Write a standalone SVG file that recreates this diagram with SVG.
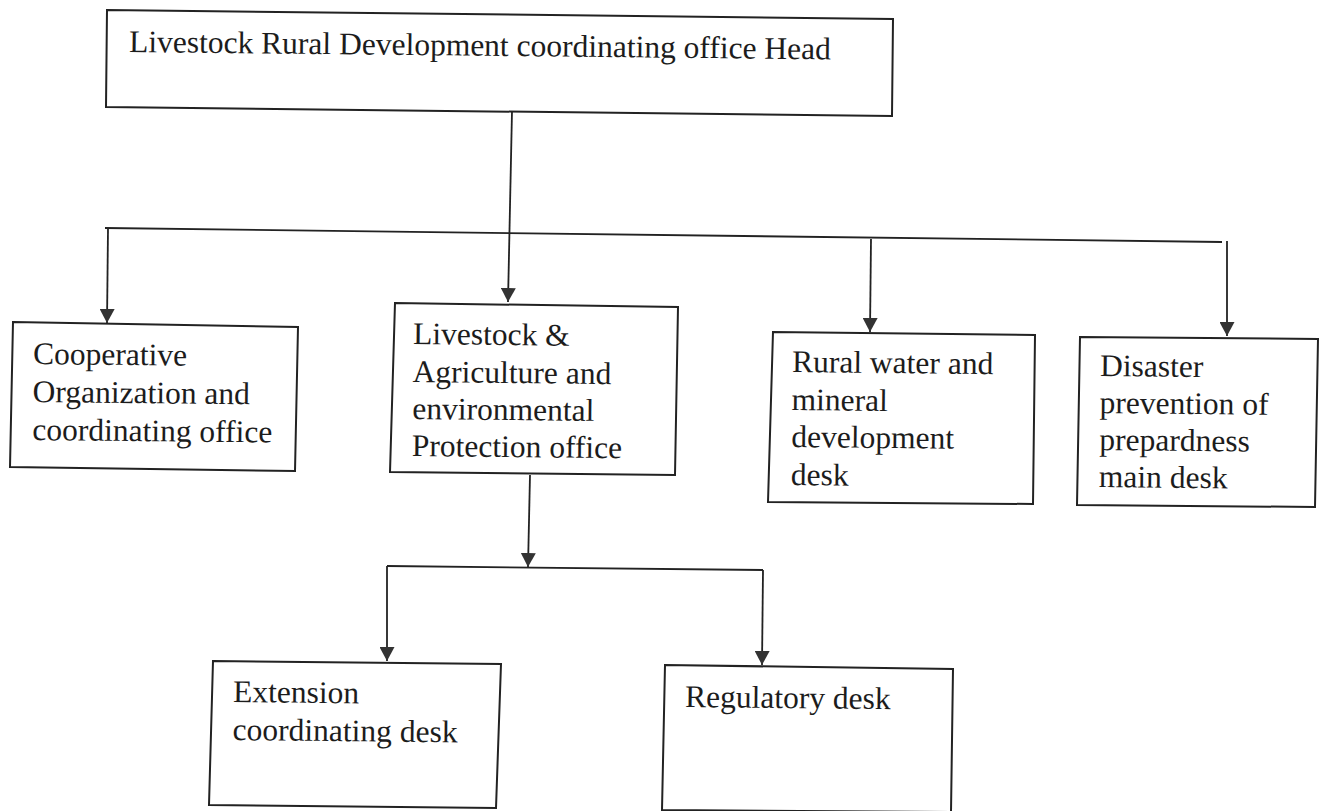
<svg xmlns="http://www.w3.org/2000/svg" width="1324" height="811" viewBox="0 0 1324 811">
<style>
.box{fill:#fff;stroke:#222;stroke-width:2}
.lbl{font-family:"Liberation Serif","DejaVu Serif",serif;font-size:31.5px;fill:#1c1c1c}
.conn{fill:none;stroke:#222;stroke-width:1.8}
</style>
<defs>
<marker id="arr" markerUnits="userSpaceOnUse" markerWidth="14" markerHeight="15" viewBox="0 0 14 15" refX="14" refY="7.5" orient="auto">
<path d="M0,0 L14,7.5 L0,15 z" fill="#333"/>
</marker>
</defs>
<rect width="1324" height="811" fill="#fff"/>
<g id="connectors">
<path class="conn" d="M512,111 L508,302" marker-end="url(#arr)"/>
<path class="conn" d="M105,228 L1222,242"/>
<path class="conn" d="M108,229 L107,323" marker-end="url(#arr)"/>
<path class="conn" d="M871,239 L870,332" marker-end="url(#arr)"/>
<path class="conn" d="M1227,241 L1227,336" marker-end="url(#arr)"/>
<path class="conn" d="M530,475 L528,567" marker-end="url(#arr)"/>
<path class="conn" d="M387,566 L763,570"/>
<path class="conn" d="M387,566 L387,661" marker-end="url(#arr)"/>
<path class="conn" d="M763,570 L762,665" marker-end="url(#arr)"/>
</g>
<g id="node-head">
<polygon class="box" points="107,10 893,19 892,116 106,107"/>
<text class="lbl" x="129" y="52" transform="rotate(0.6 129 52)">Livestock Rural Development coordinating office Head</text>
</g>
<g id="node-cooperative">
<polygon class="box" points="13,322 298,327 295,471 10,467"/>
<text class="lbl" transform="rotate(0.6 33 364)"><tspan x="33" y="364">Cooperative</tspan><tspan x="33" y="402">Organization and</tspan><tspan x="33" y="440">coordinating office</tspan></text>
</g>
<g id="node-livestock">
<polygon class="box" points="395,303 678,307 675,475 390,472"/>
<text class="lbl" transform="rotate(0.6 413 344)"><tspan x="413" y="344">Livestock &amp;</tspan><tspan x="413" y="382">Agriculture and</tspan><tspan x="413" y="419">environmental</tspan><tspan x="413" y="456">Protection office</tspan></text>
</g>
<g id="node-rural">
<polygon class="box" points="773,332 1035,335 1033,504 768,502"/>
<text class="lbl" transform="rotate(0.6 792 372)"><tspan x="792" y="372">Rural water and</tspan><tspan x="792" y="410">mineral</tspan><tspan x="792" y="447">development</tspan><tspan x="792" y="485">desk</tspan></text>
</g>
<g id="node-disaster">
<polygon class="box" points="1080,337 1318,339 1315,507 1077,505"/>
<text class="lbl" transform="rotate(0.6 1100 376)"><tspan x="1100" y="376">Disaster</tspan><tspan x="1100" y="413">prevention of</tspan><tspan x="1100" y="450">prepardness</tspan><tspan x="1100" y="487">main desk</tspan></text>
</g>
<g id="node-extension">
<polygon class="box" points="213,661 501,664 496,808 209,805"/>
<text class="lbl" transform="rotate(0.6 233 702)"><tspan x="233" y="702">Extension</tspan><tspan x="233" y="740">coordinating desk</tspan></text>
</g>
<g id="node-regulatory">
<polygon class="box" points="665,665 953,669 951,812 662,810"/>
<text class="lbl" x="685" y="707" transform="rotate(0.6 685 707)">Regulatory desk</text>
</g>
</svg>
